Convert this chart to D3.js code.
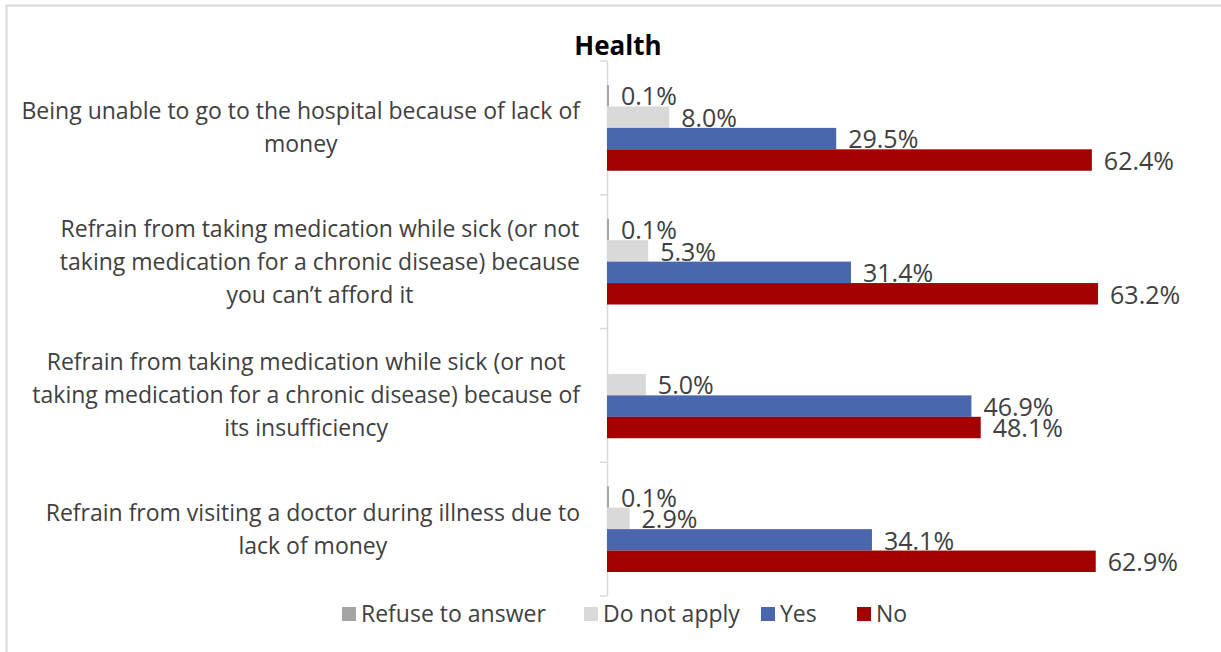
<!DOCTYPE html>
<html>
<head>
<meta charset="utf-8">
<script src="https://cdn.jsdelivr.net/npm/d3@7"></script>
<style>
  body { margin: 0; background: #fff; }
  text { font-family: "Open Sans", sans-serif; }
</style>
</head>
<body>
<svg id="chart" width="1221" height="652"></svg>
<script>
// data
var categories = [
  ["Being unable to go to the hospital because of lack of", "money"],
  ["Refrain from taking medication while sick (or not", "taking medication for a chronic disease) because", "you can\u2019t afford it"],
  ["Refrain from taking medication while sick (or not", "taking medication for a chronic disease) because of", "its insufficiency"],
  ["Refrain from visiting a doctor during illness due to", "lack of money"]
];
var seriesNames = ["Refuse to answer", "Do not apply", "Yes", "No"];
var refuseVals = [0.1, 0.1, null, 0.1];
var notApplyVals = [8.0, 5.3, 5.0, 2.9];
var yesVals = [29.5, 31.4, 46.9, 34.1];
var noVals = [62.4, 63.2, 48.1, 62.9];
var colors = ["#A5A5A5", "#D9D9D9", "#4A66AC", "#A30000"];

var seriesVals = [refuseVals, notApplyVals, yesVals, noVals];

var svg = d3.select("#chart");

// frame (only top and left are visible in the picture)
svg.append("path")
  .attr("d", "M6.5,660V5.5H1230")
  .attr("fill", "none")
  .attr("stroke", "#D9D9D9")
  .attr("stroke-width", 2);

svg.append("text")
  .attr("x", 618).attr("y", 55)
  .attr("text-anchor", "middle")
  .style("font-size", "26px").style("font-weight", "bold")
  .attr("fill", "#000")
  .text("Health");

var x = d3.scaleLinear().domain([0, 70]).range([607, 607 + 70 * 7.77]);
var y = d3.scaleBand().domain(d3.range(categories.length)).range([61, 596]);
var ySub = d3.scaleBand().domain(d3.range(seriesNames.length))
  .range([0, y.bandwidth()]).paddingOuter(1.12);

// category axis
var axis = svg.append("g");
axis.append("line")
  .attr("x1", 607.5).attr("x2", 607.5)
  .attr("y1", y.range()[0]).attr("y2", y.range()[1])
  .attr("stroke", "#D9D9D9").attr("stroke-width", 1.5);
axis.selectAll("line.tick")
  .data(d3.range(categories.length + 1))
  .enter().append("line")
  .attr("class", "tick")
  .attr("x1", 600).attr("x2", 607)
  .attr("y1", function(d){ return y.range()[0] + d * y.step(); })
  .attr("y2", function(d){ return y.range()[0] + d * y.step(); })
  .attr("stroke", "#D9D9D9").attr("stroke-width", 1.5);

// labels are centred in a block whose right edge sits at 580
var lineH = 33;
axis.selectAll("text.cat")
  .data(categories)
  .enter().append("text")
  .attr("class", "cat")
  .attr("text-anchor", "middle")
  .attr("fill", "#404040")
  .style("font-size", "23px")
  .each(function(lines, i){
    var node = d3.select(this);
    var cy = y(i) + y.bandwidth() / 2 - (lines.length - 1) * lineH / 2;
    var spans = node.selectAll("tspan")
      .data(lines)
      .enter().append("tspan")
      .attr("y", function(d, j){ return cy + j * lineH; })
      .attr("dy", "0.35em")
      .text(function(d){ return d; });
    var w = d3.max(spans.nodes(), function(n){ return n.getComputedTextLength(); });
    spans.attr("x", 580 - w / 2);
  });

// bars
var cells = [];
seriesVals.forEach(function(vals, s){
  vals.forEach(function(v, c){
    if (v !== null) cells.push({s: s, c: c, v: v});
  });
});

svg.selectAll("rect.bar")
  .data(cells)
  .enter().append("rect")
  .attr("class", "bar")
  .attr("x", x(0))
  .attr("y", function(d){ return y(d.c) + ySub(d.s); })
  .attr("width", function(d){ return Math.max(x(d.v) - x(0), 2); })
  .attr("height", ySub.bandwidth())
  .attr("fill", function(d){ return colors[d.s]; });

svg.selectAll("text.val")
  .data(cells)
  .enter().append("text")
  .attr("class", "val")
  .attr("x", function(d){ return Math.max(x(d.v), x(0) + 2) + 12; })
  .attr("y", function(d){ return y(d.c) + ySub(d.s) + ySub.bandwidth() / 2 + 1; })
  .attr("dy", "0.35em")
  .attr("fill", "#404040")
  .style("font-size", "25px")
  .text(function(d){ return d.v.toFixed(1) + "%"; });

// legend
var legendX = [342, 584, 761, 857];
var legend = svg.selectAll("g.legend")
  .data(seriesNames)
  .enter().append("g")
  .attr("class", "legend")
  .attr("transform", function(d, i){ return "translate(" + legendX[i] + ",614)"; });
legend.append("rect")
  .attr("x", 0).attr("y", -7)
  .attr("width", 14).attr("height", 14)
  .attr("fill", function(d, i){ return colors[i]; });
legend.append("text")
  .attr("x", 19).attr("dy", "0.35em")
  .attr("fill", "#404040")
  .style("font-size", "23px")
  .text(function(d){ return d; });
</script>
</body>
</html>
